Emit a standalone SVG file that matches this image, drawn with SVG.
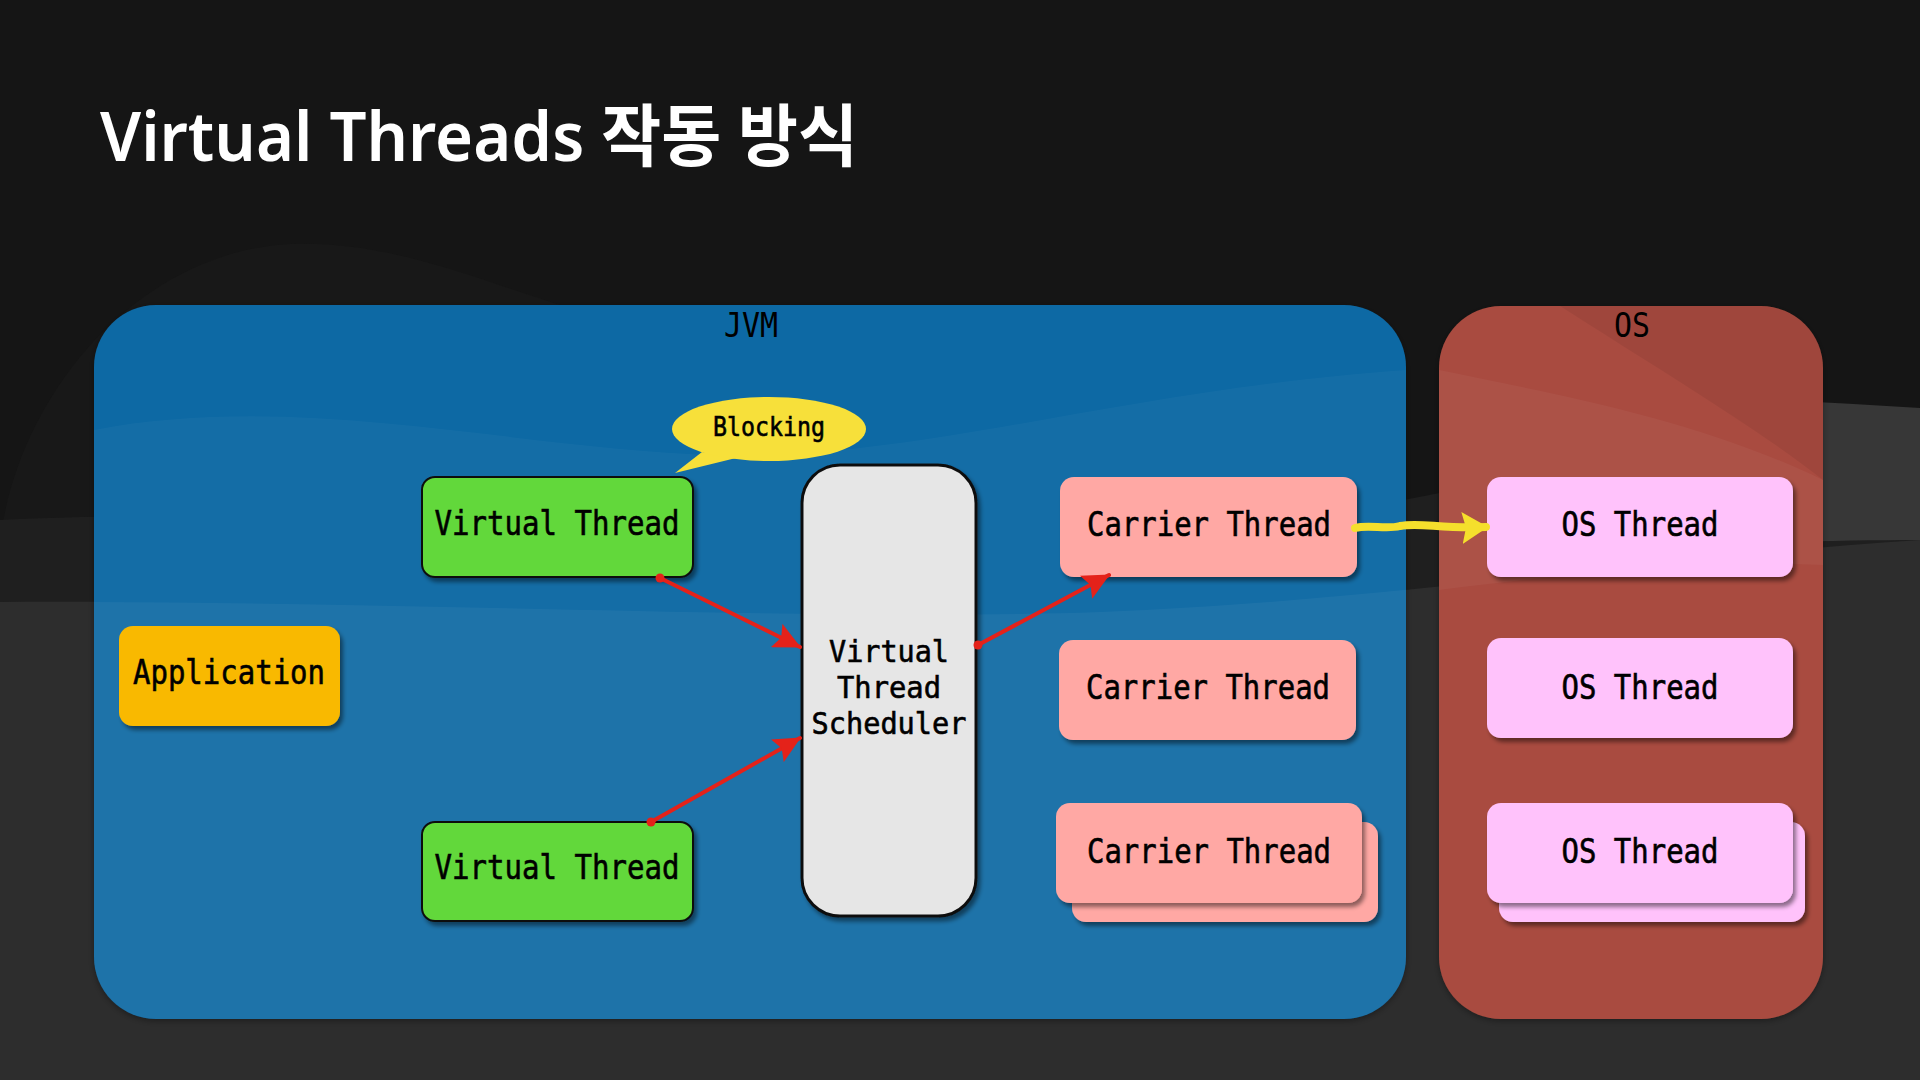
<svg xmlns="http://www.w3.org/2000/svg" width="1920" height="1080" viewBox="0 0 1920 1080">
<defs>
<style>
.t{font-family:"DejaVu Sans Mono","Liberation Mono",monospace;font-size:34px;fill:#000;stroke:#000;stroke-width:0.6px;text-anchor:middle}
.s{font-size:30px}
.lbl{font-family:"DejaVu Sans Mono","Liberation Mono",monospace;font-size:33px;fill:#000;text-anchor:middle}
.title{font-family:"Noto Sans","Noto Sans CJK KR",sans-serif;font-weight:600;font-size:68px;fill:#fff}
.red{fill:none;stroke:#e4221a;stroke-width:4;stroke-linecap:round}
</style>
<filter id="sh" x="-10%" y="-10%" width="130%" height="140%">
<feDropShadow dx="3" dy="4" stdDeviation="2" flood-color="#000" flood-opacity="0.45"/>
</filter>
<filter id="csh" x="-5%" y="-5%" width="110%" height="110%">
<feDropShadow dx="0" dy="2" stdDeviation="3" flood-color="#000" flood-opacity="0.35"/>
</filter>
<marker id="ah" markerUnits="userSpaceOnUse" markerWidth="28" markerHeight="26" refX="26" refY="13" orient="auto">
<path d="M0,0 L27,13 L0,26 L5,13 Z" fill="#e4221a"/>
</marker>
<marker id="dot" markerUnits="userSpaceOnUse" markerWidth="10" markerHeight="10" refX="5" refY="5">
<circle cx="5" cy="5" r="4.5" fill="#e4221a"/>
</marker>
<marker id="yah" markerUnits="userSpaceOnUse" markerWidth="28" markerHeight="36" refX="24" refY="18" orient="auto">
<path d="M0,2 L26,18 L0,34 L4,18 Z" fill="#f5df2c"/>
</marker>
<clipPath id="jvmclip"><rect x="94" y="305" width="1312" height="714" rx="62"/></clipPath>
<clipPath id="osclip"><rect x="1439" y="306" width="384" height="713" rx="62"/></clipPath>
</defs>

<g id="background">
<rect width="1920" height="1080" fill="#151515"/>
<path d="M0,540 C20,390 140,252 290,244 C440,238 560,330 760,350 C900,364 1000,372 1406,380 L1406,1080 L0,1080 Z" fill="#181818"/>
<path d="M0,520 C300,505 700,540 1000,545 C1300,550 1600,440 1920,408 L1920,1080 L0,1080 Z" fill="#1f1f1f"/>
<path d="M1520,388 C1660,394 1790,400 1920,408 L1920,540 C1800,540 1660,546 1520,556 Z" fill="#373737"/>
<path d="M0,602 C400,600 800,622 1100,612 C1400,600 1620,560 1920,540 L1920,1080 L0,1080 Z" fill="#2d2d2d"/>
</g>

<g id="jvm">
<rect x="94" y="305" width="1312" height="714" rx="62" fill="#0e69a4" filter="url(#csh)"/>
<g clip-path="url(#jvmclip)">
<path d="M94,430 C300,390 520,450 720,455 C920,460 1120,390 1406,370 L1406,1019 L94,1019 Z" fill="#ffffff" opacity="0.03"/>
<path d="M0,602 C400,600 800,622 1100,612 C1400,600 1620,560 1920,540 L1920,1080 L0,1080 Z" fill="#ffffff" opacity="0.045"/>
</g>
<text class="lbl" x="751" y="337" textLength="54" lengthAdjust="spacingAndGlyphs">JVM</text>
</g>

<g id="os">
<rect x="1439" y="306" width="384" height="713" rx="62" fill="#a94c40" filter="url(#csh)"/>
<g clip-path="url(#osclip)">
<path d="M1560,306 C1660,370 1760,430 1823,480 L1823,306 Z" fill="#000" opacity="0.06"/>
<path d="M1439,370 C1560,395 1700,420 1823,480 L1823,565 C1700,560 1560,575 1439,590 Z" fill="#fff" opacity="0.04"/>
</g>
<text class="lbl" x="1632" y="337" textLength="36" lengthAdjust="spacingAndGlyphs">OS</text>
</g>

<g id="title">
<text class="title" x="100" y="161" textLength="758" lengthAdjust="spacingAndGlyphs">Virtual Threads 작동 방식</text>
</g>

<g id="application">
<rect x="119" y="626" width="221" height="100" rx="14" fill="#f9b900" filter="url(#sh)"/>
<text class="t" x="229" y="684" textLength="192" lengthAdjust="spacingAndGlyphs">Application</text>
</g>

<g id="blocking">
<path d="M702,452 L675,473 L736,458 Z" fill="#f7e03a"/>
<ellipse cx="769" cy="429" rx="97" ry="32" fill="#f7e03a"/>
<text class="t" x="769" y="436" style="font-size:27px" textLength="112" lengthAdjust="spacingAndGlyphs">Blocking</text>
</g>

<g id="virtual-thread-1">
<rect x="422" y="477" width="271" height="100" rx="13" fill="#62d83a" stroke="#111" stroke-width="2" filter="url(#sh)"/>
<text class="t" x="557" y="535" textLength="245" lengthAdjust="spacingAndGlyphs">Virtual Thread</text>
</g>

<g id="virtual-thread-2">
<rect x="422" y="822" width="271" height="99" rx="13" fill="#62d83a" stroke="#111" stroke-width="2" filter="url(#sh)"/>
<text class="t" x="557" y="879" textLength="245" lengthAdjust="spacingAndGlyphs">Virtual Thread</text>
</g>

<g id="scheduler">
<rect x="802" y="465" width="174" height="451" rx="38" fill="#e6e6e6" stroke="#111" stroke-width="3" filter="url(#sh)"/>
<text class="t s" x="889" y="662" textLength="120" lengthAdjust="spacingAndGlyphs">Virtual</text>
<text class="t s" x="889" y="698" textLength="104" lengthAdjust="spacingAndGlyphs">Thread</text>
<text class="t s" x="889" y="734" textLength="155" lengthAdjust="spacingAndGlyphs">Scheduler</text>
</g>

<g id="carrier-thread-1">
<rect x="1060" y="477" width="297" height="100" rx="14" fill="#ffa8a4" filter="url(#sh)"/>
<text class="t" x="1209" y="536" textLength="244" lengthAdjust="spacingAndGlyphs">Carrier Thread</text>
</g>

<g id="carrier-thread-2">
<rect x="1059" y="640" width="297" height="100" rx="14" fill="#ffa8a4" filter="url(#sh)"/>
<text class="t" x="1208" y="699" textLength="244" lengthAdjust="spacingAndGlyphs">Carrier Thread</text>
</g>

<g id="carrier-thread-3">
<rect x="1072" y="822" width="306" height="100" rx="14" fill="#ffa8a4" filter="url(#sh)"/>
<rect x="1056" y="803" width="306" height="100" rx="14" fill="#ffa8a4" filter="url(#sh)"/>
<text class="t" x="1209" y="863" textLength="244" lengthAdjust="spacingAndGlyphs">Carrier Thread</text>
</g>

<g id="os-thread-1">
<rect x="1487" y="477" width="306" height="100" rx="14" fill="#ffc2fb" filter="url(#sh)"/>
<text class="t" x="1640" y="536" textLength="157" lengthAdjust="spacingAndGlyphs">OS Thread</text>
</g>

<g id="os-thread-2">
<rect x="1487" y="638" width="306" height="100" rx="14" fill="#ffc2fb" filter="url(#sh)"/>
<text class="t" x="1640" y="699" textLength="157" lengthAdjust="spacingAndGlyphs">OS Thread</text>
</g>

<g id="os-thread-3">
<rect x="1499" y="822" width="306" height="100" rx="14" fill="#ffc2fb" filter="url(#sh)"/>
<rect x="1487" y="803" width="306" height="100" rx="14" fill="#ffc2fb" filter="url(#sh)"/>
<text class="t" x="1640" y="863" textLength="157" lengthAdjust="spacingAndGlyphs">OS Thread</text>
</g>

<g id="connectors">
<path class="red" d="M660,578 L800,647" marker-start="url(#dot)" marker-end="url(#ah)"/>
<path class="red" d="M651,822 L800,738" marker-start="url(#dot)" marker-end="url(#ah)"/>
<path class="red" d="M978,645 L1109,575" marker-start="url(#dot)" marker-end="url(#ah)"/>
<path d="M1355,528 C1370,524 1385,530 1400,526 C1420,522 1440,529 1486,527" fill="none" stroke="#f5df2c" stroke-width="8" stroke-linecap="round" marker-end="url(#yah)"/>
</g>
</svg>
